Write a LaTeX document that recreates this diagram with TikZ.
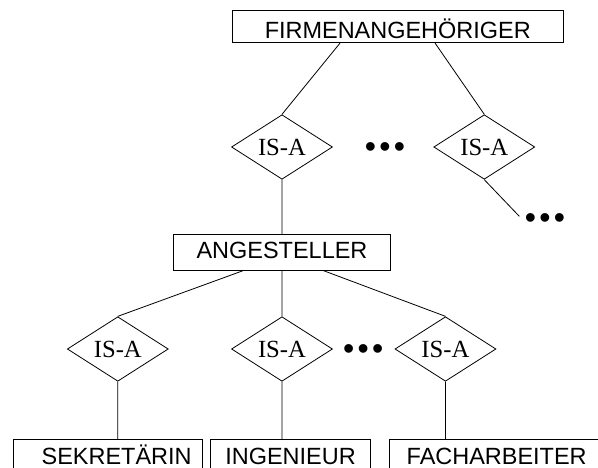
\documentclass[tikz,border=0pt]{standalone}
\usepackage{fontspec}
\setmainfont{Liberation Serif}
\newfontfamily\entfont{Liberation Sans}
\usetikzlibrary{shapes.geometric, positioning}

\newcommand{\moredots}{\textbullet\hspace{2.5pt}\textbullet\hspace{2.5pt}\textbullet}

\begin{document}
\begin{tikzpicture}[on grid, line width=0.6pt,
		entity/.style = {draw, rectangle, inner sep=0pt, font=\entfont\fontsize{17.6}{17.6}\selectfont},
		lowent/.style = {entity, text height=18.5pt, text depth=3pt},
		isa/.style = {draw, diamond, inner sep=0pt, minimum width=75.75pt, minimum height=34.3pt, font=\fontsize{18.5}{18.5}\selectfont},
		dotrow/.style = {inner sep=0pt, text height=15.8pt, text depth=0pt, font=\entfont\fontsize{24}{24}\selectfont}]
			\useasboundingbox (0,0) rectangle (448.5pt,-350.25pt);
			\clip (0,0) rectangle (448.5pt,-350.25pt);

			\node[entity, minimum width=248pt, text height=21.2pt, text depth=3.3pt] (f) at (298.3pt,-19.8pt) {FIRMENANGEHÖRIGER};
			\node[isa, below left=90.45pt and 86.8pt of f] (u1) {IS-A};
			\node[isa, below right=90.45pt and 64.9pt of f] (u2) {IS-A};
			\node[dotrow, right=77.25pt of u1] (d1) {\moredots};
			\node[dotrow, below right=53.25pt and 45.55pt of u2] (d2) {\moredots};
			\coordinate[below right=27.5pt and 26.3pt of u2.south] (t);

			\node[entity, minimum width=162.5pt, text height=17.7pt, text depth=8.8pt, below=78.95pt of u1] (a) {ANGESTELLER};
			\node[isa, below=72.55pt of a] (l2) {IS-A};
			\node[isa, left=123.15pt of l2] (l1) {IS-A};
			\node[isa, right=122.6pt of l2] (l3) {IS-A};
			\node[dotrow, right=60.9pt of l2] (d3) {\moredots};

			\node[lowent, minimum width=142pt, below left=78.5pt and 7.35pt of l1] (sek) {\hspace*{13pt}SEKRETÄRIN};
			\node[lowent, minimum width=119.7pt, below right=78.5pt and 6.4pt of l2] (ing) {INGENIEUR};
			\node[lowent, minimum width=161.5pt, below right=78.5pt and 38.4pt of l3] (fach) {FACHARBEITER};

			\draw ([xshift=-43.3pt]f.south) -- (u1.north)
			([xshift=28pt]f.south) -- (u2.north)
			(u1.south) -- (u1.south |- a.north)
			(u2.south) -- (t)
			([xshift=-28.5pt]a.south) -- (l1.north)
			(a.south -| l2.north) -- (l2.north)
			([xshift=30.5pt]a.south) -- (l3.north)
			(l1.south) -- (l1.south |- sek.north)
			(l2.south) -- (l2.south |- ing.north)
			(l3.south) -- (l3.south |- fach.north);
		\end{tikzpicture}
\end{document}
